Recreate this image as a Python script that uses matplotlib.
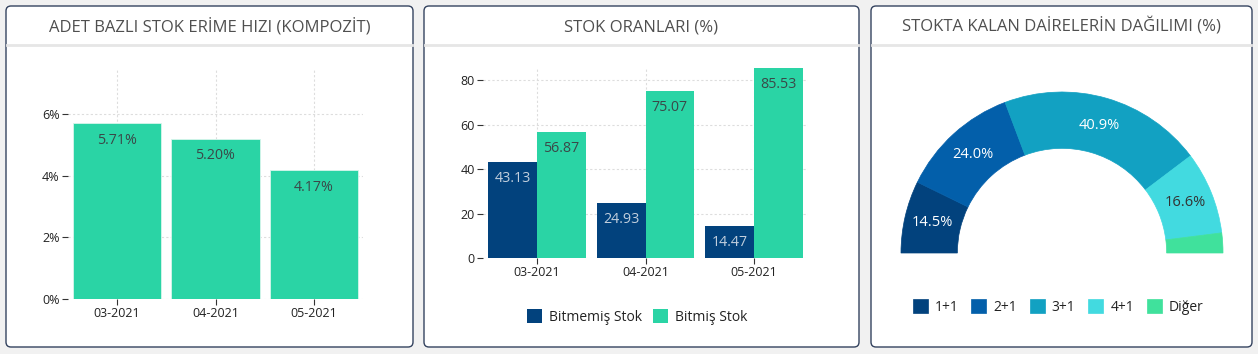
import matplotlib.pyplot as plt
from matplotlib.patches import FancyBboxPatch
import numpy as np

plt.rcParams['font.family'] = ['Open Sans', 'DejaVu Sans']

# data
months = ['03-2021', '04-2021', '05-2021']
erime = [5.71, 5.20, 4.17]
bitmemis = [43.13, 24.93, 14.47]
bitmis = [56.87, 75.07, 85.53]
pie_labels = ['1+1', '2+1', '3+1', '4+1', 'Diğer']
pie_vals = [14.5, 24.0, 40.9, 16.6, 4.0]

titles = ['ADET BAZLI STOK ERİME HIZI (KOMPOZİT)', 'STOK ORANLARI (%)',
          'STOKTA KALAN DAİRELERİN DAĞILIMI (%)']

GREEN = '#2ad4a5'
NAVY = '#02427d'
pie_colors = ['#02427d', '#035faa', '#12a1c2', '#42dae0', '#40e19c']

W, H = 1258, 354
fig = plt.figure(figsize=(W / 100, H / 100), dpi=100)
fig.patch.set_facecolor('#f1f1f1')


def px_axes(l, t, r, b):
    return fig.add_axes([l / W, 1 - b / H, (r - l) / W, (b - t) / H])


# background layer for panels
bg = fig.add_axes([0, 0, 1, 1], zorder=-5)
bg.set_xlim(0, W)
bg.set_ylim(H, 0)
bg.axis('off')
panels = [(6, 413), (424, 859), (871, 1252)]
for (l, r), t in zip(panels, titles):
    bg.add_patch(FancyBboxPatch((l, 6), r - l, 341, boxstyle='round,pad=0,rounding_size=5',
                                fc='white', ec='#34435f', lw=1.0))
    bg.plot([l + 1, r - 1], [45, 45], color='#e6e6e6', lw=2)
    bg.text((l + r) / 2, 27, t, ha='center', va='center', fontsize=12, color='#4f4f4f')


def style_axes(ax):
    for s in ax.spines.values():
        s.set_visible(False)
    ax.set_facecolor('none')
    ax.grid(True, color='#dddddd', linestyle=(0, (2, 2)), lw=0.8)
    ax.set_axisbelow(True)
    ax.tick_params(axis='both', length=4, width=0.8, color='#333333', labelsize=9,
                   labelcolor='#222222', pad=2)


# panel 1
ax1 = px_axes(68, 69, 363, 299)
x = np.arange(len(months))
ax1.bar(x, erime, width=0.9, color=GREEN, edgecolor='#d8f5ec', lw=0.6)
for xi, v in zip(x, erime):
    ax1.annotate('{:.2f}%'.format(v), (xi, v), xytext=(0, -7), textcoords='offset points',
                 ha='center', va='top', fontsize=10.3, color='#3a4848')
ax1.set_xlim(-0.5, 2.5)
ax1.set_ylim(0, 7.46)
ax1.set_yticks([0, 2, 4, 6])
ax1.set_yticklabels(['0%', '2%', '4%', '6%'])
ax1.set_xticks(x)
ax1.set_xticklabels(months)
style_axes(ax1)

# panel 2
ax2 = px_axes(483, 67, 808, 258)
b1 = ax2.bar(x - 0.225, bitmemis, width=0.45, color=NAVY, label='Bitmemiş Stok')
b2 = ax2.bar(x + 0.225, bitmis, width=0.45, color=GREEN, label='Bitmiş Stok')
for xi, v in zip(x, bitmemis):
    ax2.annotate('{:.2f}'.format(v), (xi - 0.225, v), xytext=(0, -6.5), textcoords='offset points',
                 ha='center', va='top', fontsize=10.3, color='#c2cfdd')
for xi, v in zip(x, bitmis):
    ax2.annotate('{:.2f}'.format(v), (xi + 0.225, v), xytext=(0, -6.5), textcoords='offset points',
                 ha='center', va='top', fontsize=10.3, color='#3a4848')
ax2.set_xlim(-0.5, 2.5)
ax2.set_ylim(0, 86)
ax2.set_yticks([0, 20, 40, 60, 80])
ax2.set_xticks(x)
ax2.set_xticklabels(months)
style_axes(ax2)
fig.legend(handles=[b1, b2], loc='center', bbox_to_anchor=(637 / W, 1 - 317 / H), ncol=2,
           frameon=False, fontsize=10, handlelength=1.1, handleheight=1.1, handletextpad=0.5,
           columnspacing=0.8, labelcolor='#222222')

# panel 3
ax3 = px_axes(901, 92, 1223, 253)
vals = pie_vals + [sum(pie_vals)]
cols = pie_colors + ['none']
wedges, _ = ax3.pie(vals, colors=cols, startangle=180, counterclock=False,
                    wedgeprops=dict(width=0.35, lw=0.5))
for w, c in zip(wedges, cols):
    w.set_edgecolor(c if c != 'none' else 'none')
wedges[-1].set_visible(False)
for i in range(4):
    w = wedges[i]
    ang = np.deg2rad((w.theta1 + w.theta2) / 2)
    tc = '#333333' if i == 3 else 'white'
    ax3.text(0.826 * np.cos(ang), 0.826 * np.sin(ang), '{:.1f}%'.format(pie_vals[i]),
             ha='center', va='center', fontsize=10.5, color=tc)
ax3.set_aspect('auto')
ax3.set_xlim(-1, 1)
ax3.set_ylim(0, 1)
ax3.axis('off')
fig.legend(handles=wedges[:5], labels=pie_labels, loc='center',
           bbox_to_anchor=(1058 / W, 1 - 307 / H), ncol=5, frameon=False, fontsize=10,
           handlelength=1.1, handleheight=1.1, handletextpad=0.5, columnspacing=0.9,
           labelcolor='#222222')

fig.savefig('out.png', dpi=100, facecolor=fig.get_facecolor())
